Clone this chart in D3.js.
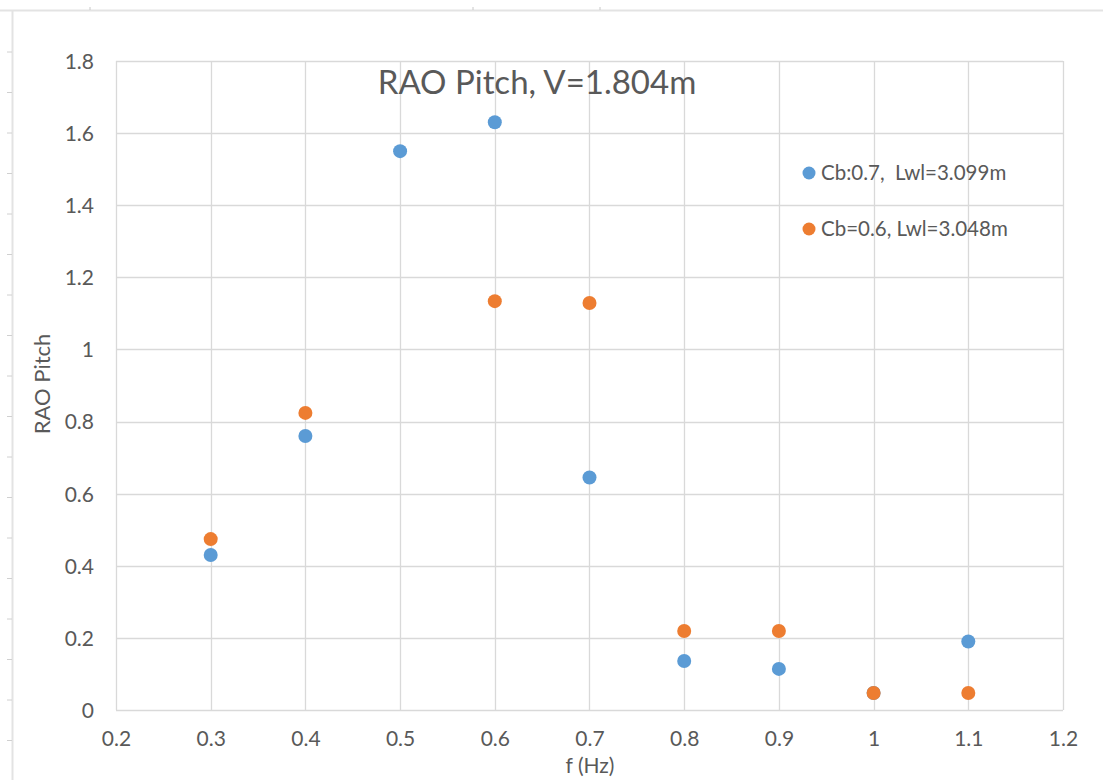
<!DOCTYPE html>
<html>
<head>
<meta charset="utf-8">
<script src="https://cdn.jsdelivr.net/npm/d3@7"></script>
<style>
  body { margin: 0; background: #fff; }
  svg text { font-family: Lato, 'Open Sans', sans-serif; fill: #595959; white-space: pre; }
</style>
</head>
<body>
<svg id="chart"></svg>
<script>
// values
const freqs = [0.3, 0.4, 0.5, 0.6, 0.7, 0.8, 0.9, 1.0, 1.1];
const cb07 = [0.43, 0.76, 1.55, 1.63, 0.645, 0.136, 0.114, 0.047, 0.19];
const cb06Freqs = [0.3, 0.4, 0.6, 0.7, 0.8, 0.9, 1.0, 1.1];
const cb06 = [0.474, 0.824, 1.134, 1.129, 0.219, 0.219, 0.047, 0.047];
const xTicks = [0.2, 0.3, 0.4, 0.5, 0.6, 0.7, 0.8, 0.9, 1, 1.1, 1.2];
const yTicks = [0, 0.2, 0.4, 0.6, 0.8, 1, 1.2, 1.4, 1.6, 1.8];
const seriesNames = ['Cb:0.7,  Lwl=3.099m', 'Cb=0.6, Lwl=3.048m'];
const seriesColors = ['#5b9bd5', '#ed7d31'];

const width = 1103, height = 780;
const plot = { left: 116, right: 1063, top: 61, bottom: 710 };

const svg = d3.select('#chart').attr('width', width).attr('height', height);

// chart frame like the spreadsheet edge
svg.append('line').attr('x1', 0).attr('x2', width).attr('y1', 10.5).attr('y2', 10.5)
  .attr('stroke', '#e3e3e3').attr('stroke-width', 2);
svg.append('line').attr('x1', 12.5).attr('x2', 12.5).attr('y1', 10).attr('y2', height)
  .attr('stroke', '#e3e3e3').attr('stroke-width', 2);
d3.range(52, height, 40.5).forEach(y => {
  svg.append('line').attr('x1', 7).attr('x2', 12).attr('y1', y).attr('y2', y)
    .attr('stroke', '#d0d0d0');
});
[90, 473, 600].forEach(x => {
  svg.append('line').attr('x1', x).attr('x2', x).attr('y1', 7).attr('y2', 10)
    .attr('stroke', '#c8c8c8');
});

let x = d3.scaleLinear().domain([0.2, 1.2]).range([plot.left, plot.right]);
let y = d3.scaleLinear().domain([0, 1.8]).range([plot.bottom, plot.top]);

// gridlines
let grid = svg.append('g').attr('stroke', '#d9d9d9').attr('stroke-width', 1.3);
grid.selectAll('.vg').data(xTicks).enter().append('line')
  .attr('x1', d => Math.round(x(d)) + 0.5).attr('x2', d => Math.round(x(d)) + 0.5)
  .attr('y1', plot.top).attr('y2', plot.bottom);
grid.selectAll('.hg').data(yTicks).enter().append('line')
  .attr('y1', d => Math.round(y(d)) + 0.5).attr('y2', d => Math.round(y(d)) + 0.5)
  .attr('x1', plot.left).attr('x2', plot.right);

// axes (labels only, lines come from grid)
let xAxis = svg.append('g')
  .attr('transform', 'translate(0,' + (plot.bottom + 18) + ')')
  .call(d3.axisBottom(x).tickValues(xTicks).tickSize(0).tickFormat(d3.format('')));
let yAxis = svg.append('g')
  .attr('transform', 'translate(' + (plot.left - 19) + ',0)')
  .call(d3.axisLeft(y).tickValues(yTicks).tickSize(0).tickFormat(d3.format('')));
[xAxis, yAxis].forEach(a => {
  a.select('.domain').remove();
  a.selectAll('text').style('font-size', '21px').attr('fill', '#595959');
});
yAxis.selectAll('text').attr('dy', '0.35em');

// title and axis titles
svg.append('text').attr('x', 537).attr('y', 94).attr('text-anchor', 'middle')
  .style('font-size', '33px').text('RAO Pitch, V=1.804m');
svg.append('text').attr('x', 590).attr('y', 773).attr('text-anchor', 'middle')
  .style('font-size', '21px').text('f (Hz)');
svg.append('text').attr('transform', 'translate(50,384) rotate(-90)')
  .attr('text-anchor', 'middle').style('font-size', '22px').text('RAO Pitch');

// points
const data = [
  freqs.map((f, i) => ({ f: f, v: cb07[i] })),
  cb06Freqs.map((f, i) => ({ f: f, v: cb06[i] }))
];
data.forEach((series, s) => {
  svg.append('g').selectAll('circle').data(series).enter().append('circle')
    .attr('cx', d => x(d.f)).attr('cy', d => y(d.v)).attr('r', 7)
    .attr('fill', seriesColors[s]);
});

// legend
let legend = svg.append('g');
seriesNames.forEach((name, i) => {
  let ly = 173 + i * 56;
  legend.append('circle').attr('cx', 809).attr('cy', ly).attr('r', 6.5)
    .attr('fill', seriesColors[i]);
  legend.append('text').attr('x', 821).attr('y', ly + 7)
    .style('font-size', '20.5px').text(name);
});
</script>
</body>
</html>
